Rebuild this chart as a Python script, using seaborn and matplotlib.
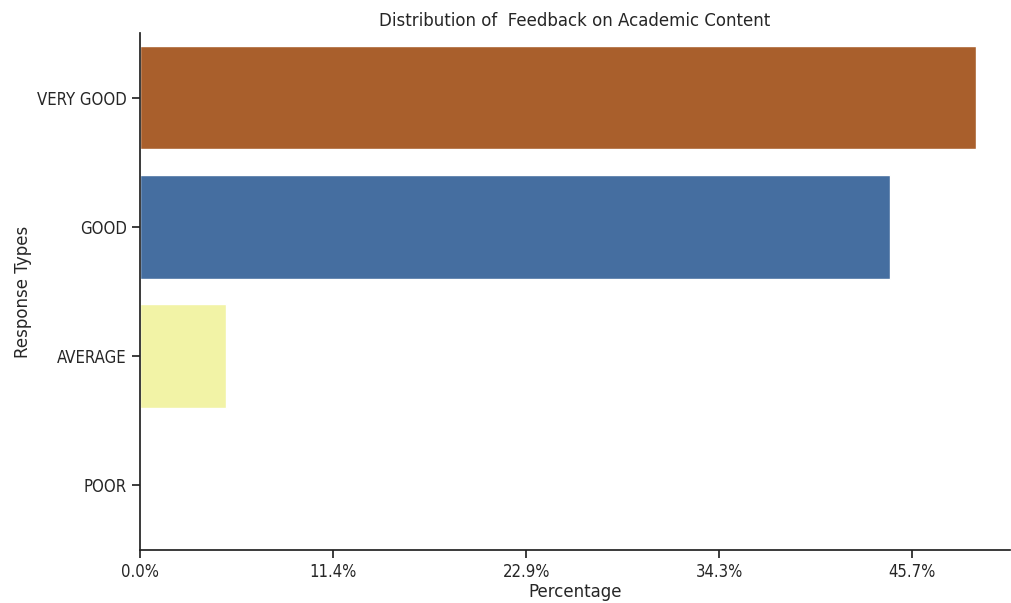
import matplotlib
matplotlib.use("Agg")
import matplotlib.pyplot as plt
import seaborn as sns
import pandas as pd

categories = ["VERY GOOD", "GOOD", "AVERAGE", "POOR"]
percentages = [49.5, 44.4, 5.1, 0.0]
bar_colors = ["#A95F2C", "#456EA0", "#F2F3A6", "#FFFFFF"]
tick_values = [0.0, 11.43, 22.86, 34.29, 45.71]
tick_labels = ["0.0%", "11.4%", "22.9%", "34.3%", "45.7%"]

sns.set_theme(style="ticks")
plt.rcParams["font.family"] = ["DejaVu Sans"]

df = pd.DataFrame({"Response": categories, "Percentage": percentages})

fig, ax = plt.subplots(figsize=(10.11, 6.03), dpi=100)
fig.subplots_adjust(left=0.1385, right=0.999, top=0.945, bottom=0.088)

sns.barplot(data=df, y="Response", x="Percentage", hue="Response",
            order=categories, hue_order=categories,
            palette=bar_colors, legend=False, ax=ax, saturation=1)

ax.set_xlim(0, 51.5)
ax.set_xticks(tick_values)
ax.set_xticklabels(tick_labels, fontsize=12, fontstretch="condensed")
for lab in ax.get_yticklabels():
    lab.set_fontsize(12)
    lab.set_fontstretch("condensed")
ax.set_title("Distribution of  Feedback on Academic Content", fontsize=12, pad=5)
ax.set_xlabel("Percentage", fontsize=12, labelpad=1)
ax.set_ylabel("Response Types", fontsize=12)
sns.despine(ax=ax)
for s in ["left", "bottom"]:
    ax.spines[s].set_color("#222222")
    ax.spines[s].set_linewidth(1.25)

fig.savefig("out.png", dpi=100)
